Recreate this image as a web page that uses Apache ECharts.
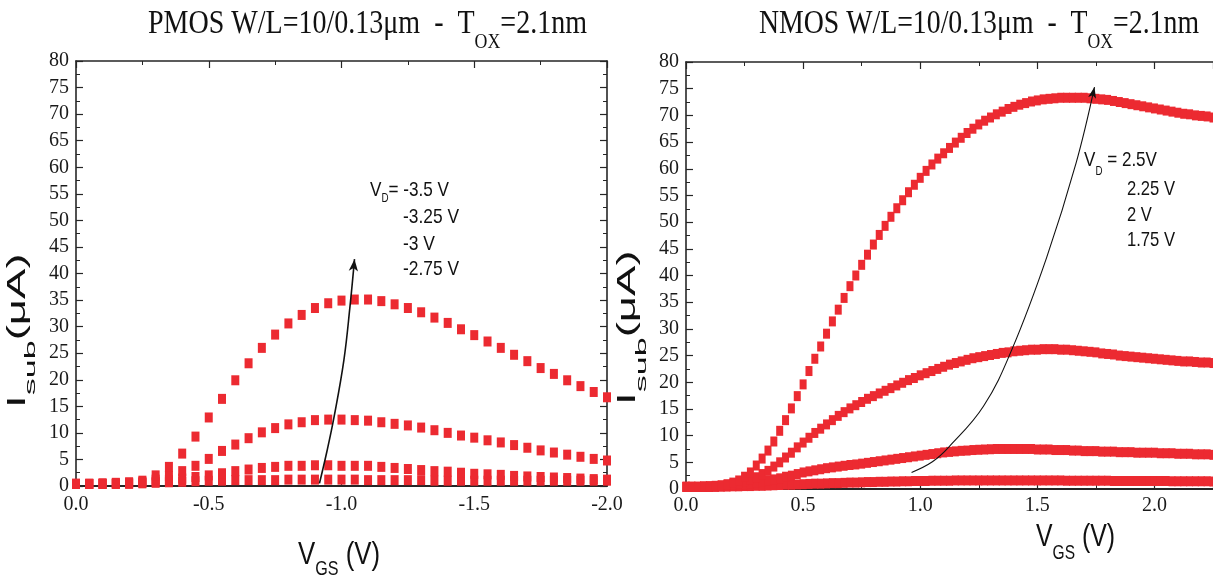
<!DOCTYPE html>
<html>
<head>
<meta charset="utf-8">
<script src="https://cdn.jsdelivr.net/npm/echarts@6/dist/echarts.min.js"></script>
<style>
html,body{margin:0;padding:0;background:#fff;}
#c{width:1213px;height:579px;}
</style>
</head>
<body>
<div id="c"></div>
<script>
// ---------------- DATA ----------------
const pmosVgs = [0,-0.05,-0.1,-0.15,-0.2,-0.25,-0.3,-0.35,-0.4,-0.45,-0.5,-0.55,-0.6,-0.65,-0.7,-0.75,-0.8,-0.85,-0.9,-0.95,-1.0,-1.05,-1.1,-1.15,-1.2,-1.25,-1.3,-1.35,-1.4,-1.45,-1.5,-1.55,-1.6,-1.65,-1.7,-1.75,-1.8,-1.85,-1.9,-1.95,-2.0];
const pmosVdm350 = [0.4,0.4,0.5,0.6,0.7,1.0,2.0,3.6,6.1,9.3,12.9,16.4,19.9,23.1,26.0,28.5,30.6,32.2,33.5,34.4,34.9,35.1,35.1,34.8,34.2,33.5,32.7,31.7,30.7,29.5,28.4,27.2,26.0,24.7,23.5,22.2,21.1,19.9,18.8,17.7,16.7];
const pmosVdm325 = [0.4,0.4,0.4,0.5,0.6,0.8,1.2,1.9,2.8,3.8,5.1,6.6,7.8,9.0,10.1,10.9,11.6,12.0,12.4,12.5,12.5,12.4,12.3,12.0,11.7,11.4,11.0,10.5,10.0,9.5,9.1,8.6,8.2,7.7,7.2,6.7,6.3,5.9,5.5,5.1,4.8];
const pmosVdm300 = [0.4,0.4,0.4,0.4,0.5,0.6,0.8,1.1,1.4,1.7,2.0,2.4,2.8,3.1,3.4,3.6,3.8,3.8,3.9,3.9,3.8,3.8,3.8,3.6,3.4,3.2,3.0,2.8,2.7,2.5,2.3,2.2,2.1,1.9,1.8,1.7,1.6,1.5,1.4,1.3,1.2];
const pmosVdm275 = [0.4,0.4,0.4,0.4,0.4,0.5,0.6,0.7,0.8,0.9,1.0,1.0,1.1,1.1,1.1,1.1,1.2,1.2,1.2,1.2,1.2,1.2,1.1,1.1,1.1,1.1,1.1,1.0,1.0,1.0,1.0,1.0,1.0,1.0,1.0,1.0,1.0,1.0,1.0,1.0,1.0];

const nmosVgs = [0,0.025,0.05,0.075,0.1,0.125,0.15,0.175,0.2,0.225,0.25,0.275,0.3,0.325,0.35,0.375,0.4,0.425,0.45,0.475,0.5,0.525,0.55,0.575,0.6,0.625,0.65,0.675,0.7,0.725,0.75,0.775,0.8,0.825,0.85,0.875,0.9,0.925,0.95,0.975,1.0,1.025,1.05,1.075,1.1,1.125,1.15,1.175,1.2,1.225,1.25,1.275,1.3,1.325,1.35,1.375,1.4,1.425,1.45,1.475,1.5,1.525,1.55,1.575,1.6,1.625,1.65,1.675,1.7,1.725,1.75,1.775,1.8,1.825,1.85,1.875,1.9,1.925,1.95,1.975,2.0,2.025,2.05,2.075,2.1,2.125,2.15,2.175,2.2,2.225,2.25];
const nmosVd250 = [0.4,0.4,0.4,0.5,0.5,0.6,0.7,0.9,1.2,1.6,2.3,3.1,4.4,5.7,7.2,8.9,10.9,12.9,15.1,17.4,19.6,22.1,24.4,26.7,29.1,31.4,33.6,35.8,38.0,40.0,42.0,43.9,45.8,47.6,49.3,51.0,52.6,54.1,55.6,57.0,58.3,59.6,60.8,61.9,62.9,63.9,64.9,65.8,66.7,67.5,68.3,69.0,69.6,70.2,70.7,71.2,71.6,72.0,72.3,72.6,72.8,73.0,73.1,73.2,73.3,73.3,73.3,73.3,73.3,73.2,73.1,73.0,72.9,72.7,72.5,72.3,72.1,71.9,71.7,71.5,71.3,71.1,70.9,70.7,70.5,70.3,70.2,70.0,69.9,69.8,69.6];
const nmosVd225 = [0.4,0.4,0.4,0.4,0.5,0.5,0.6,0.7,0.9,1.1,1.4,1.8,2.2,2.8,3.4,4.2,5.0,5.9,6.8,7.8,8.7,9.6,10.5,11.3,12.1,12.9,13.7,14.4,15.1,15.7,16.3,16.9,17.4,17.9,18.4,18.9,19.4,19.9,20.4,20.8,21.3,21.7,22.1,22.5,22.9,23.3,23.6,23.9,24.2,24.5,24.7,24.9,25.1,25.3,25.5,25.6,25.8,25.9,26.0,26.1,26.1,26.2,26.2,26.2,26.1,26.1,26.0,25.9,25.8,25.7,25.6,25.4,25.3,25.2,25.0,24.9,24.8,24.7,24.6,24.5,24.4,24.3,24.2,24.1,24.0,23.9,23.9,23.8,23.7,23.7,23.6];
const nmosVd200 = [0.4,0.4,0.4,0.4,0.4,0.5,0.5,0.6,0.7,0.8,0.9,1.0,1.2,1.4,1.6,1.8,2.0,2.3,2.5,2.8,3.1,3.3,3.5,3.7,3.9,4.05,4.2,4.35,4.5,4.6,4.75,4.9,5.05,5.2,5.35,5.5,5.65,5.8,5.95,6.1,6.25,6.4,6.55,6.7,6.85,6.95,7.05,7.15,7.2,7.3,7.35,7.4,7.45,7.5,7.5,7.5,7.5,7.5,7.5,7.5,7.4,7.4,7.4,7.3,7.3,7.3,7.2,7.2,7.1,7.1,7.1,7.0,7.0,7.0,6.9,6.9,6.9,6.8,6.8,6.8,6.8,6.7,6.7,6.7,6.6,6.6,6.6,6.5,6.5,6.5,6.4];
const nmosVd175 = [0.4,0.4,0.4,0.4,0.4,0.4,0.45,0.45,0.5,0.5,0.55,0.55,0.6,0.6,0.65,0.7,0.75,0.8,0.8,0.85,0.9,0.95,1.0,1.0,1.05,1.1,1.1,1.15,1.2,1.2,1.25,1.3,1.3,1.35,1.35,1.4,1.4,1.45,1.45,1.5,1.5,1.5,1.55,1.55,1.55,1.55,1.6,1.6,1.6,1.6,1.6,1.6,1.6,1.6,1.6,1.6,1.6,1.6,1.6,1.6,1.6,1.6,1.6,1.6,1.6,1.55,1.55,1.55,1.55,1.55,1.55,1.55,1.55,1.5,1.5,1.5,1.5,1.5,1.5,1.5,1.5,1.5,1.5,1.45,1.45,1.45,1.45,1.45,1.45,1.45,1.4];

// annotation arrows (data coordinates)
const pmosArrowX = [-0.917,-0.945,-0.972,-1.009,-1.032,-1.049];
const pmosArrowY = [0.5,6.5,13,23.7,33.8,42.7];
const nmosArrowX = [0.963,1.052,1.123,1.27,1.393,1.54,1.665,1.744];
const nmosArrowY = [3.1,5.1,7.9,15.5,26.3,43.4,61.0,75.3];

const pmosLegend = ['-3.25 V','-3 V','-2.75 V'];
const nmosLegend = ['2.25 V','2 V','1.75 V'];

// ---------------- STYLE ----------------
const RED = '#EC2A31';
const AX = '#262626';
const SERIF = "'Liberation Serif','Times New Roman',serif";
const SANS = "'Liberation Sans',Arial,sans-serif";

const mctx = document.createElement('canvas').getContext('2d');
function tw(t, font){ mctx.font = font; return mctx.measureText(t).width; }
function label(c){
  const fam = c.family;
  const parts = c.parts.map(p => {
    const font = p.s + 'px ' + fam;
    return Object.assign({font: font, w: tw(p.t, font) * (p.sx || 1)}, p);
  });
  const total = parts.reduce((a, p) => a + p.w, 0);
  const sx = c.fit ? c.fit / total : (c.sx || 1);
  let off = c.center ? -total / 2 : 0;
  const children = parts.map(p => {
    const el = {type: 'text', x: off, y: p.dy || 0, scaleX: p.sx || 1, silent: true,
      style: {text: p.t, font: p.font, fill: c.color || '#111',
        align: 'left', verticalAlign: 'middle', textAlign: 'left', textVerticalAlign: 'middle'}};
    off += p.w;
    return el;
  });
  return {type: 'group', x: c.x, y: c.y, rotation: c.rot || 0, scaleX: sx, scaleY: c.sy || 1, silent: true, children: children};
}

function pts(xs, ys){ return xs.map((x, i) => [x, ys[i]]); }
function arrowData(xs, ys, rot, size){
  return xs.map((x, i) => i === xs.length - 1
    ? {value: [x, ys[i]], symbol: 'arrow', symbolSize: size, symbolRotate: rot}
    : {value: [x, ys[i]], symbol: 'none'});
}

const lineStyle = {color: AX, width: 1.6};
function mkX(grid, min, max, pos, showLabel, fmt, margin){
  return {
    gridIndex: grid, type: 'value', min: min, max: max, interval: 0.5, position: pos,
    inverse: min < 0,
    axisLine: {show: true, onZero: false, lineStyle: {color: AX, width: pos === 'bottom' ? 2 : 1.6}},
    axisTick: {show: true, inside: true, length: 7, lineStyle: {color: AX, width: 1.2}},
    minorTick: {show: true, splitNumber: 2, length: 4, lineStyle: {color: AX, width: 1}},
    splitLine: {show: false}, minorSplitLine: {show: false},
    axisLabel: {show: showLabel, formatter: fmt, fontFamily: SERIF, fontSize: 20, color: '#1a1a1a', margin: margin, showMaxLabel: min >= 0 ? false : true}
  };
}
function mkY(grid, pos, showLabel){
  return {
    gridIndex: grid, type: 'value', min: 0, max: 80, interval: 5, position: pos,
    axisLine: {show: true, onZero: false, lineStyle: {color: AX, width: 1.6}},
    axisTick: {show: true, inside: true, length: 7, lineStyle: {color: AX, width: 1.2}},
    minorTick: {show: true, splitNumber: 2, length: 4, lineStyle: {color: AX, width: 1}},
    splitLine: {show: false}, minorSplitLine: {show: false},
    axisLabel: {show: showLabel, fontFamily: SERIF, fontSize: 20, color: '#1a1a1a', margin: 7}
  };
}
const fmtL = v => v.toFixed(1);
const fmtR = v => (Math.abs(v * 2 - Math.round(v * 2)) < 1e-6 ? v.toFixed(1) : '');

function scat(xi, yi, xs, ys, size){
  return {type: 'scatter', xAxisIndex: xi, yAxisIndex: yi, data: pts(xs, ys), symbol: 'rect',
    symbolSize: size, itemStyle: {color: RED, opacity: 1}, clip: false, silent: true, z: 2};
}

const series = [
  scat(0, 0, pmosVgs, pmosVdm275, [8, 10]),
  scat(0, 0, pmosVgs, pmosVdm300, [8, 10]),
  scat(0, 0, pmosVgs, pmosVdm325, [8, 10]),
  scat(0, 0, pmosVgs, pmosVdm350, [8, 10]),
  scat(2, 2, nmosVgs, nmosVd175, [7, 10]),
  scat(2, 2, nmosVgs, nmosVd200, [7, 10]),
  scat(2, 2, nmosVgs, nmosVd225, [7, 10]),
  scat(2, 2, nmosVgs, nmosVd250, [7, 10]),
  {type: 'line', xAxisIndex: 0, yAxisIndex: 0, smooth: 0.4, showSymbol: true, symbol: 'none',
   data: arrowData(pmosArrowX, pmosArrowY, -5.5, [7, 12]),
   lineStyle: {color: '#111', width: 1.6}, itemStyle: {color: '#111'}, silent: true, z: 5},
  {type: 'line', xAxisIndex: 2, yAxisIndex: 2, smooth: 0.4, showSymbol: true, symbol: 'none',
   data: arrowData(nmosArrowX, nmosArrowY, -12.5, [6, 11]),
   lineStyle: {color: '#111', width: 1.1}, itemStyle: {color: '#111'}, silent: true, z: 5}
];

const graphics = [
  // titles
  label({x: 148, y: 24, family: SERIF, fit: 439, parts: [
    {t: 'PMOS W/L=10/0.13\u03bcm  -  T', s: 33}, {t: 'OX', s: 21, dy: 18.5}, {t: '=2.1nm', s: 33}]}),
  label({x: 759, y: 24, family: SERIF, fit: 440, parts: [
    {t: 'NMOS W/L=10/0.13\u03bcm  -  T', s: 33}, {t: 'OX', s: 21, dy: 18.5}, {t: '=2.1nm', s: 33}]}),
  // x axis names
  label({x: 298, y: 555, family: SANS, fit: 82, parts: [
    {t: 'V', s: 32}, {t: 'GS', s: 20, dy: 14.5}, {t: ' (V)', s: 32}]}),
  label({x: 1036, y: 537, family: SANS, fit: 79, parts: [
    {t: 'V', s: 32}, {t: 'GS', s: 20, dy: 16}, {t: ' (V)', s: 32}]}),
  // y axis names (rotated)
  label({x: 17.5, y: 408, rot: Math.PI / 2, sx: 1.75, family: SANS, parts: [
    {t: 'I', s: 26}, {t: 'sub', s: 15, dy: 13.5, sx: 1.3}, {t: '(\u03bcA)', s: 26}]}),
  label({x: 628, y: 405, rot: Math.PI / 2, sx: 1.75, family: SANS, parts: [
    {t: 'I', s: 26}, {t: 'sub', s: 15, dy: 13.5, sx: 1.3}, {t: '(\u03bcA)', s: 26}]}),
  // PMOS annotation
  label({x: 370, y: 190, family: SANS, fit: 79, parts: [
    {t: 'V', s: 21}, {t: 'D', s: 12, dy: 9}, {t: '= -3.5 V', s: 21}]}),
  label({x: 403, y: 217.5, family: SANS, fit: 56, parts: [{t: pmosLegend[0], s: 21}]}),
  label({x: 403, y: 244, family: SANS, fit: 32, parts: [{t: pmosLegend[1], s: 21}]}),
  label({x: 403, y: 269.5, family: SANS, fit: 56, parts: [{t: pmosLegend[2], s: 21}]}),
  // NMOS annotation
  label({x: 1084, y: 160.5, family: SANS, fit: 73, parts: [
    {t: 'V', s: 21}, {t: 'D', s: 12, dy: 11}, {t: ' = 2.5V', s: 21}]}),
  label({x: 1127, y: 189.5, family: SANS, fit: 48, parts: [{t: nmosLegend[0], s: 21}]}),
  label({x: 1127, y: 215, family: SANS, sx: 0.79, parts: [{t: nmosLegend[1], s: 21}]}),
  label({x: 1127, y: 240, family: SANS, fit: 48, parts: [{t: nmosLegend[2], s: 21}]})
];

const option = {
  animation: false,
  backgroundColor: '#fff',
  grid: [
    {left: 76, top: 61, width: 531, height: 425},
    {left: 686, top: 62, width: 529, height: 427}
  ],
  xAxis: [
    mkX(0, -2, 0, 'bottom', true, fmtL, 9),
    mkX(0, -2, 0, 'top', false, fmtL, 9),
    mkX(1, 0, 2.25, 'bottom', true, fmtR, 7),
    mkX(1, 0, 2.25, 'top', false, fmtR, 7)
  ],
  yAxis: [
    mkY(0, 'left', true),
    mkY(0, 'right', false),
    mkY(1, 'left', true)
  ],
  series: series,
  graphic: graphics
};

const chart = echarts.init(document.getElementById('c'), null, {renderer: 'canvas'});
chart.setOption(option);
</script>
</body>
</html>
